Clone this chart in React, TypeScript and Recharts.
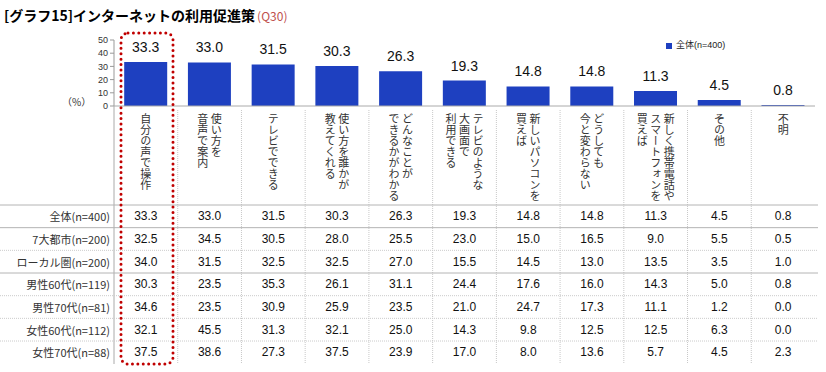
import { Bar, BarChart, LabelList, Legend, XAxis, YAxis } from "recharts";

const categories = [
  "自分の声で操作",
  "使い方を\n音声で案内",
  "テレビでできる",
  "使い方を誰かが\n教えてくれる",
  "どんなことが\nできるかがわかる",
  "テレビのような\n大画面で\n利用できる",
  "新しいパソコンを\n買えば",
  "どうしても\n今と変わらない",
  "新しく携帯電話や\nスマートフォンを\n買えば",
  "その他",
  "不明",
];

const rowLabels = [
  "全体(n=400)",
  "7大都市(n=200)",
  "ローカル圏(n=200)",
  "男性60代(n=119)",
  "男性70代(n=81)",
  "女性60代(n=112)",
  "女性70代(n=88)",
];

const total = [33.3, 33.0, 31.5, 30.3, 26.3, 19.3, 14.8, 14.8, 11.3, 4.5, 0.8];
const bigCities = [32.5, 34.5, 30.5, 28.0, 25.5, 23.0, 15.0, 16.5, 9.0, 5.5, 0.5];
const localArea = [34.0, 31.5, 32.5, 32.5, 27.0, 15.5, 14.5, 13.0, 13.5, 3.5, 1.0];
const male60 = [30.3, 23.5, 35.3, 26.1, 31.1, 24.4, 17.6, 16.0, 14.3, 5.0, 0.8];
const male70 = [34.6, 23.5, 30.9, 25.9, 23.5, 21.0, 24.7, 17.3, 11.1, 1.2, 0.0];
const female60 = [32.1, 45.5, 31.3, 32.1, 25.0, 14.3, 9.8, 12.5, 12.5, 6.3, 0.0];
const female70 = [37.5, 38.6, 27.3, 37.5, 23.9, 17.0, 8.0, 13.6, 5.7, 4.5, 2.3];

const yTicks = [0, 10, 20, 30, 40, 50];

const tableRows = [total, bigCities, localArea, male60, male70, female60, female70];
const data = categories.map((name, i) => ({ name, total: total[i] }));

const BLUE = "#1e40c0";
const FONT = "'Liberation Sans', 'Noto Sans CJK JP', sans-serif";
const ROW_TOP = 205;
const ROW_H = 22.67;
const TABLE_BOTTOM = 364;
// solid separators after these rows, dotted otherwise
const solidAfter = [0, 2];

function CategoryTick(props: any) {
  const { x, payload } = props;
  const i = props.index ?? payload.index;
  const half = payload.offset || 31.9;
  const lines = categories[i].split("\n");
  const gap = 13.5;
  return (
    <g>
      {lines.map((line, k) => (
        <text
          key={k}
          x={x + ((lines.length - 1) / 2 - k) * gap}
          y={113}
          writingMode="vertical-rl"
          fontSize={11}
          fill="#333"
          fontFamily="'Noto Sans CJK JP', sans-serif"
        >
          {line}
        </text>
      ))}
      {i < categories.length - 1 && (
        <line
          x1={x + half}
          x2={x + half}
          y1={110}
          y2={TABLE_BOTTOM}
          stroke="#c8c8c8"
          strokeDasharray="1 1"
        />
      )}
      {tableRows.map((row, r) => (
        <text
          key={r}
          x={x}
          y={ROW_TOP + ROW_H * (r + 0.5)}
          textAnchor="middle"
          dominantBaseline="central"
          fontSize={12}
          fill="#111"
        >
          {row[i].toFixed(1)}
        </text>
      ))}
    </g>
  );
}

export default function App() {
  return (
    <div
      style={{
        position: "absolute",
        left: 0,
        top: 0,
        width: 826,
        height: 372,
        background: "#fff",
        fontFamily: FONT,
      }}
    >
      <div
        style={{
          position: "absolute",
          left: 4,
          top: 5,
          fontSize: 14,
          fontWeight: "bold",
          fontFamily: "'Noto Sans CJK JP', sans-serif",
          whiteSpace: "nowrap",
          color: "#000",
        }}
      >
        [グラフ15]インターネットの利用促進策
        <span style={{ color: "#c0504d", fontWeight: "normal", fontSize: 12, marginLeft: 2 }}>(Q30)</span>
      </div>

      <BarChart
        width={826}
        height={372}
        data={data}
        margin={{ top: 40, right: 11, bottom: 6, left: 84 }}
        barCategoryGap="16%"
        style={{ position: "absolute", left: 0, top: 0 }}
      >
        <YAxis
          width={30}
          domain={[0, 50]}
          ticks={yTicks}
          interval={0}
          tick={{ fontSize: 9, fill: "#333" }}
          tickSize={4}
          tickMargin={2}
          stroke="#999"
        />
        <XAxis
          dataKey="name"
          height={260}
          interval={0}
          tickSize={0}
          tickMargin={6}
          tick={<CategoryTick />}
          stroke="#aaa"
        />
        <Legend
          layout="vertical"
          align="center"
          verticalAlign="middle"
          iconType="square"
          iconSize={6}
          wrapperStyle={{ top: 38, left: 666, width: 120, height: 16, fontSize: 9 }}
          formatter={(value: string) => <span style={{ color: "#222" }}>{value}</span>}
        />
        <Bar dataKey="total" name="全体(n=400)" fill={BLUE} isAnimationActive={false}>
          <LabelList
            dataKey="total"
            position="top"
            offset={10}
            fontSize={14}
            fill="#111"
            formatter={(v: any) => Number(v).toFixed(1)}
          />
        </Bar>
      </BarChart>

      <svg
        width={826}
        height={372}
        style={{ position: "absolute", left: 0, top: 0, pointerEvents: "none" }}
      >
        <text x={62} y={106} fontSize={10} fill="#333" fontFamily="'Noto Sans CJK JP', sans-serif">
          （%）
        </text>
        <line x1={114} x2={114} y1={106} y2={TABLE_BOTTOM} stroke="#aaa" />
        <line x1={0} x2={818} y1={ROW_TOP} y2={ROW_TOP} stroke="#b4b4b4" />
        {rowLabels.slice(0, -1).map((_, r) => {
          const yy = ROW_TOP + ROW_H * (r + 1);
          const solid = solidAfter.includes(r);
          return (
            <line
              key={r}
              x1={0}
              x2={818}
              y1={yy}
              y2={yy}
              stroke={solid ? "#b4b4b4" : "#cccccc"}
              strokeDasharray={solid ? undefined : "1 1"}
            />
          );
        })}
        {rowLabels.map((label, r) => (
          <text
            key={label}
            x={110}
            y={ROW_TOP + ROW_H * (r + 0.5)}
            textAnchor="end"
            dominantBaseline="central"
            fontSize={11}
            fill="#333"
            fontFamily="'Noto Sans CJK JP', sans-serif"
          >
            {label}
          </text>
        ))}
        <rect
          x={121}
          y={33}
          width={52}
          height={331}
          rx={7}
          fill="none"
          stroke="#c00000"
          strokeWidth={3}
          strokeLinecap="round"
          strokeDasharray="0 5.4"
        />
      </svg>
    </div>
  );
}
